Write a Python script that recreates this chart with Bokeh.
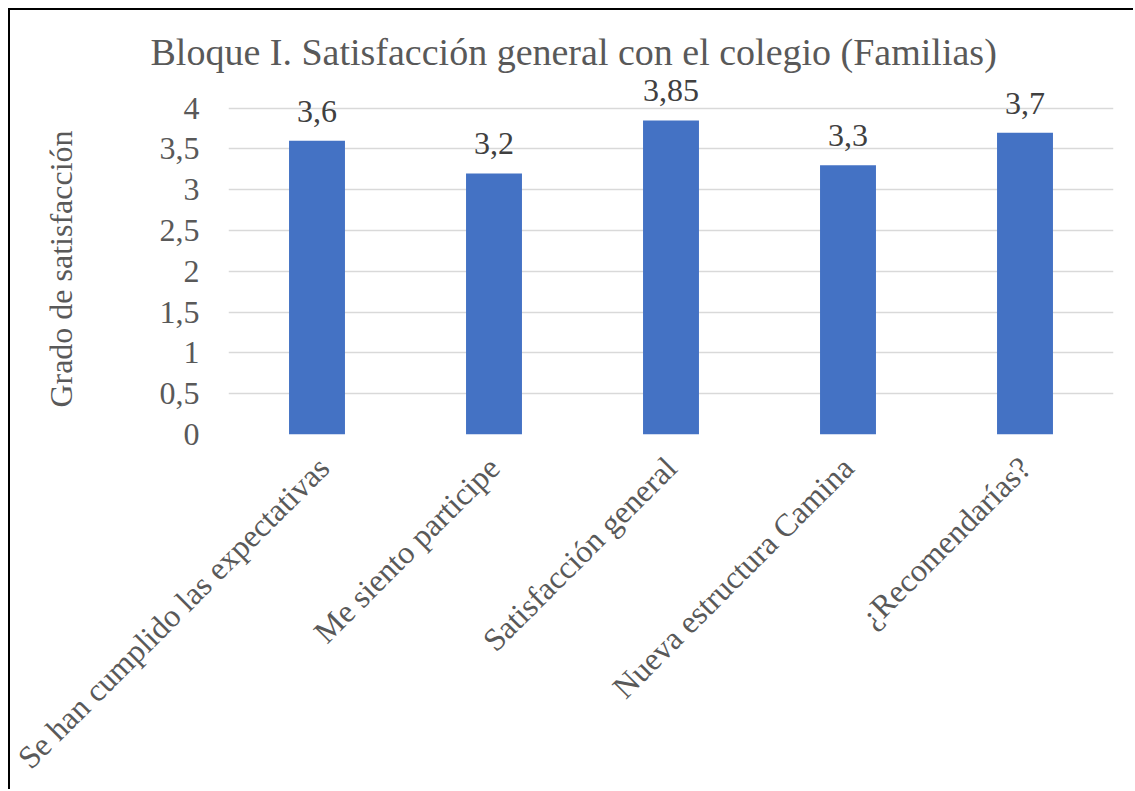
import math
from bokeh.plotting import figure
from bokeh.models import ColumnDataSource, LabelSet, FactorRange, FixedTicker, CustomJSTickFormatter
from bokeh.embed import file_html
from bokeh.resources import INLINE

categories = ["Se han cumplido las expectativas", "Me siento participe", "Satisfacción general",
              "Nueva estructura Camina", "¿Recomendarías?"]
values = [3.6, 3.2, 3.85, 3.3, 3.7]
y_ticks = [0, 0.5, 1, 1.5, 2, 2.5, 3, 3.5, 4]
y_title = "Grado de satisfacción"

labels = [("%g" % v).replace(".", ",") for v in values]
source = ColumnDataSource(dict(cat=categories, val=values, lab=labels))

FONT = "Liberation Serif"
GREY = "#595959"

p = figure(width=1125, height=781, output_backend="svg", toolbar_location=None,
           x_range=FactorRange(*categories, range_padding=0), y_range=(0, 4.45),
           title="Bloque I. Satisfacción general con el colegio (Familias)",
           min_border_left=218, min_border_right=22, min_border_top=61, min_border_bottom=356)
p.styles = {"border-top": "2px solid black", "border-left": "2px solid black",
            "margin-top": "8px", "margin-left": "8px"}

p.vbar(x="cat", top="val", width=0.316, source=source, color="#4472C4", line_color=None)

p.add_layout(LabelSet(x="cat", y="val", text="lab", source=source, text_align="center",
                      text_baseline="alphabetic", y_offset=19, text_font=FONT,
                      text_font_size="32px", text_color="#404040"))

p.title.text_font = FONT
p.title.text_font_size = "38px"
p.title.text_font_style = "normal"
p.title.text_color = GREY
p.title.align = "left"
p.title.offset = -78
p.title.standoff = -3

p.outline_line_color = None
p.xgrid.grid_line_color = None
p.ygrid.grid_line_color = "#d9d9d9"
p.ygrid.grid_line_width = 1.3
p.ygrid.ticker = FixedTicker(ticks=y_ticks)

p.yaxis.ticker = FixedTicker(ticks=y_ticks)
p.yaxis.formatter = CustomJSTickFormatter(code="return tick.toString().replace('.', ',');")
p.yaxis.axis_line_color = None
p.yaxis.major_tick_line_color = None
p.yaxis.minor_tick_line_color = None
p.yaxis.major_tick_out = 0
p.yaxis.major_label_standoff = 29
p.yaxis.major_label_text_font = FONT
p.yaxis.major_label_text_font_size = "32px"
p.yaxis.major_label_text_color = GREY
# trailing no-break spaces shift the visible label down to sit centred on the 0-4 grid
p.yaxis.axis_label = y_title + "\u00a0" * 4
p.yaxis.axis_label_text_font = FONT
p.yaxis.axis_label_text_font_size = "32px"
p.yaxis.axis_label_text_font_style = "normal"
p.yaxis.axis_label_text_color = GREY
p.yaxis.axis_label_standoff = 78

p.xaxis.axis_line_color = None
p.xaxis.major_tick_line_color = None
p.xaxis.major_tick_out = 0
p.xaxis.major_label_orientation = math.pi / 4
p.xaxis.major_label_standoff = 28
p.xaxis.major_label_text_font = FONT
p.xaxis.major_label_text_font_size = "32px"
p.xaxis.major_label_text_color = GREY

open("out.html", "w").write(file_html(p, INLINE))
